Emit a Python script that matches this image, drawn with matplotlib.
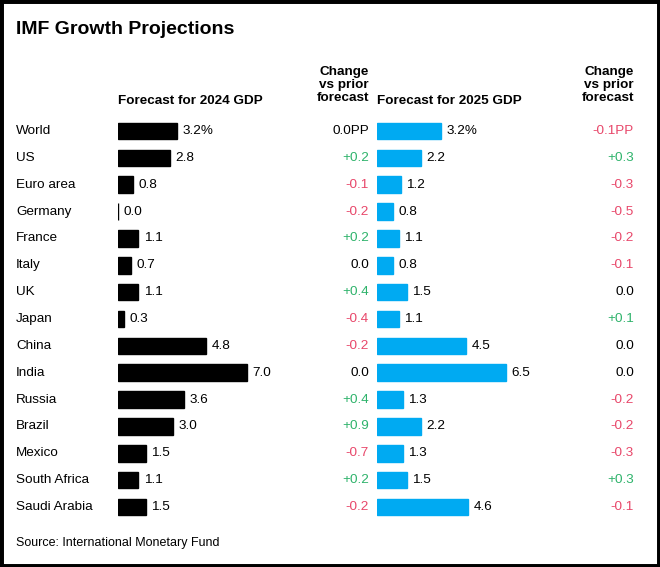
import matplotlib
matplotlib.use("Agg")
import matplotlib.pyplot as plt
from matplotlib.patches import Rectangle

countries = ["World", "US", "Euro area", "Germany", "France", "Italy", "UK", "Japan",
             "China", "India", "Russia", "Brazil", "Mexico", "South Africa", "Saudi Arabia"]
gdp_2024 = [3.2, 2.8, 0.8, 0.0, 1.1, 0.7, 1.1, 0.3, 4.8, 7.0, 3.6, 3.0, 1.5, 1.1, 1.5]
chg_2024 = [0.0, 0.2, -0.1, -0.2, 0.2, 0.0, 0.4, -0.4, -0.2, 0.0, 0.4, 0.9, -0.7, 0.2, -0.2]
gdp_2025 = [3.2, 2.2, 1.2, 0.8, 1.1, 0.8, 1.5, 1.1, 4.5, 6.5, 1.3, 2.2, 1.3, 1.5, 4.6]
chg_2025 = [-0.1, 0.3, -0.3, -0.5, -0.2, -0.1, 0.0, 0.1, 0.0, 0.0, -0.2, -0.2, -0.3, 0.3, -0.1]

plt.rcParams["font.family"] = ["Liberation Sans", "DejaVu Sans"]
W, H = 660, 567
fig = plt.figure(figsize=(W / 100, H / 100), dpi=100)
base = fig.add_axes([0, 0, 1, 1])
base.set_xlim(0, W); base.set_ylim(H, 0); base.axis("off")
fig.patches.append(Rectangle((0, 0), 1, 1, transform=fig.transFigure, fill=False,
                             edgecolor="black", linewidth=5))

GREEN, RED, BLUE = "#2eb36b", "#e8476a", "#00aaf2"
row0, row_step = 131, (507 - 131) / 14
n = len(countries)
fs = 9.7

base.text(16, 30, "IMF Growth Projections", fontsize=14, fontweight="bold", va="center")
base.text(118, 101, "Forecast for 2024 GDP", fontsize=fs, fontweight="bold", va="center")
base.text(377, 101, "Forecast for 2025 GDP", fontsize=fs, fontweight="bold", va="center")
for xr in (369, 634):
    base.text(xr, 85, "Change\nvs prior\nforecast", fontsize=fs, fontweight="bold",
              ha="right", va="center", linespacing=1.15)
base.text(16, 543, "Source: International Monetary Fund", fontsize=9, va="center")


def bar_axes(x0, scale, vmax):
    top = row0 - row_step / 2
    height = row_step * n
    ax = fig.add_axes([x0 / W, 1 - (top + height) / H, vmax * scale / W, height / H])
    ax.set_xlim(0, vmax); ax.set_ylim(n - 0.5, -0.5); ax.axis("off")
    return ax


def fmt_chg(v, i):
    s = "0.0" if v == 0 else f"{v:+.1f}"
    col = "black" if v == 0 else (GREEN if v > 0 else RED)
    return s + ("PP" if i == 0 else ""), col


for x0, scale, vals, chgs, color, xr in [(118, 129 / 7.0, gdp_2024, chg_2024, "black", 369),
                                          (377, 129 / 6.5, gdp_2025, chg_2025, BLUE, 634)]:
    vmax = 8
    ax = bar_axes(x0, scale, vmax)
    ax.barh(range(n), vals, height=0.62, color=color, edgecolor=color, linewidth=1)
    for i, v in enumerate(vals):
        lab = f"{v:.1f}" + ("%" if i == 0 else "")
        ax.annotate(lab, (v, i), xytext=(4, 0), textcoords="offset points",
                    va="center", fontsize=fs)
        y = row0 + i * row_step
        s, c = fmt_chg(chgs[i], i)
        base.text(xr, y, s, ha="right", va="center", fontsize=fs, color=c)

for i, c in enumerate(countries):
    base.text(16, row0 + i * row_step, c, va="center", fontsize=fs)

fig.savefig("out.png", dpi=100)
